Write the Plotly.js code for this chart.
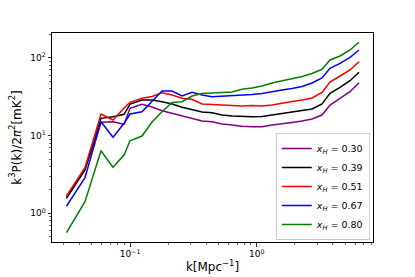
<!DOCTYPE html>
<html>
<head>
<meta charset="utf-8">
<script src="https://cdn.plot.ly/plotly-3.0.1.min.js"></script>
<style>html,body{margin:0;padding:0;background:#fff;}#chart{width:415px;height:277px;}</style>
</head>
<body>
<div id="chart"></div>
<script>
const k = [0.0315, 0.0441, 0.0590, 0.0734, 0.0897, 0.1000, 0.1243, 0.1492, 0.1789, 0.2146,
  0.2573, 0.3086, 0.3701, 0.4438, 0.5323, 0.6384, 0.7656, 0.9182, 1.101, 1.321,
  1.584, 1.900, 2.278, 2.733, 3.277, 3.790, 4.546, 5.451, 6.418];

const pk030 = [1.597, 3.717, 14.83, 15.10, 13.98, 22.46, 25.28, 23.34, 20.92, 19.36,
  17.88, 16.70, 15.41, 15.10, 14.10, 13.69, 13.17, 13.02, 13.02, 13.69,
  14.10, 14.75, 15.41, 16.36, 18.41, 24.76, 30.20, 36.73, 47.96];

const pk039 = [1.560, 3.608, 16.70, 17.51, 18.80, 25.51, 28.72, 28.72, 27.31, 25.51,
  23.13, 21.81, 20.12, 19.71, 18.41, 17.88, 17.51, 17.51, 17.61, 18.41,
  18.97, 19.83, 20.73, 22.00, 25.51, 35.03, 41.83, 50.88, 65.27];

const pk051 = [1.670, 3.863, 18.97, 15.88, 22.66, 26.83, 30.20, 31.86, 35.66, 33.31,
  30.20, 29.33, 25.51, 25.13, 24.76, 24.40, 24.04, 24.40, 24.04, 24.76,
  26.28, 27.47, 28.72, 30.47, 35.87, 48.96, 58.50, 69.88, 89.37];

const pk067 = [1.241, 2.872, 15.10, 9.509, 14.40, 18.97, 20.30, 27.88, 37.50, 37.50,
  32.34, 36.08, 33.31, 31.67, 32.15, 32.34, 33.31, 33.81, 34.83, 36.95,
  38.63, 40.39, 42.85, 47.53, 55.13, 73.48, 85.22, 101.8, 126.4];

const pk080 = [0.5628, 1.411, 6.393, 3.908, 5.627, 8.596, 9.883, 14.96, 20.30, 26.67,
  27.31, 32.34, 34.83, 35.03, 35.87, 36.40, 39.44, 40.99, 43.49, 47.53,
  50.43, 53.51, 57.62, 63.00, 71.35, 93.97, 105.8, 126.4, 158.8];

const seriesNames = ['0.30', '0.39', '0.51', '0.67', '0.80'];
const seriesData = [pk030, pk039, pk051, pk067, pk080];
const seriesColors = ['#800080', '#000000', '#ff0000', '#0000ff', '#008000'];

const xTickVals = [0.1, 1];
const xTickText = ['10<sup>\u22121</sup>', '10<sup>0</sup>'];
const yTickVals = [1, 10, 100];
const yTickText = ['10<sup>0</sup>', '10<sup>1</sup>', '10<sup>2</sup>'];

function minorVals(lo, hi) {
  const out = [];
  for (let d = lo; d <= hi; d++) {
    for (let m = 2; m <= 9; m++) out.push(m * Math.pow(10, d));
  }
  return out;
}

const traces = seriesData.map((y, i) => ({
  x: k, y: y, type: 'scatter', mode: 'lines',
  name: '<i>x</i><sub><i>H</i></sub> = ' + seriesNames[i],
  line: {color: seriesColors[i], width: 1.5}
}));

const axisCommon = {
  type: 'log', showgrid: false, zeroline: false,
  showline: true, mirror: true, linecolor: '#000', linewidth: 1,
  ticks: 'outside', ticklen: 3.5, tickwidth: 0.8, tickcolor: '#000',
  tickmode: 'array',
  tickfont: {family: 'DejaVu Sans', size: 9, color: '#000'}
};

const layout = {
  width: 415, height: 277,
  margin: {l: 52, r: 42, t: 33, b: 35},
  paper_bgcolor: '#fff', plot_bgcolor: '#fff',
  font: {family: 'DejaVu Sans', color: '#000'},
  showlegend: true,
  xaxis: Object.assign({}, axisCommon, {
    range: [-1.616, 0.918],
    tickvals: xTickVals, ticktext: xTickText,
    minor: {tickmode: 'array', tickvals: minorVals(-2, 0), ticks: 'outside', ticklen: 2, tickwidth: 0.6, tickcolor: '#000', showgrid: false},
    title: {text: 'k[Mpc<sup>\u22121</sup>]', font: {family: 'DejaVu Sans', size: 12, color: '#000'}, standoff: 4}
  }),
  yaxis: Object.assign({}, axisCommon, {
    range: [-0.369, 2.3205],
    tickvals: yTickVals, ticktext: yTickText,
    minor: {tickmode: 'array', tickvals: minorVals(-1, 2), ticks: 'outside', ticklen: 2, tickwidth: 0.6, tickcolor: '#000', showgrid: false},
    title: {text: 'k<sup>3</sup>P(k)/2<i>π</i><sup>2</sup>[mK<sup>2</sup>]', font: {family: 'DejaVu Sans', size: 12, color: '#000'}, standoff: 6}
  }),
  legend: {
    x: 0.99, y: 0.01, xanchor: 'right', yanchor: 'bottom',
    bgcolor: 'rgba(255,255,255,0.8)', bordercolor: '#cccccc', borderwidth: 1,
    font: {family: 'DejaVu Sans', size: 9.5, color: '#000'},
    itemwidth: 30, tracegroupgap: 0
  }
};

Plotly.newPlot('chart', traces, layout, {displayModeBar: false, staticPlot: true});
</script>
</body>
</html>
